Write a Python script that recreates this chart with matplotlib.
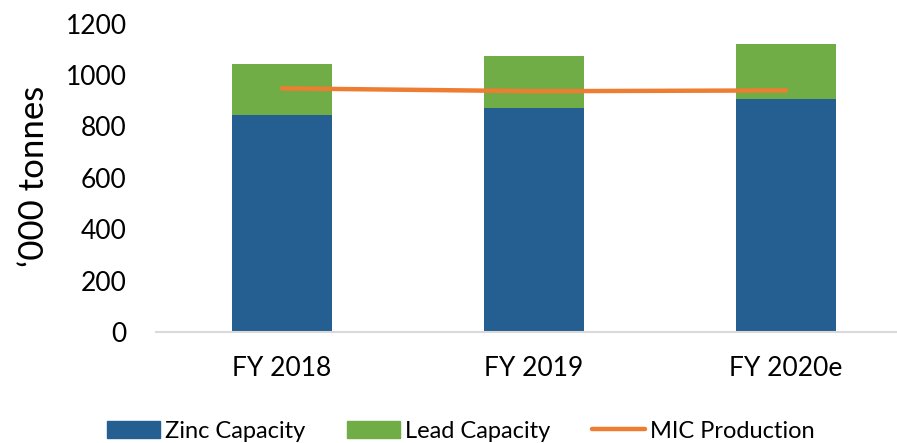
import numpy as np
import matplotlib.pyplot as plt
from matplotlib.lines import Line2D
from matplotlib.patches import Patch

plt.rcParams['font.family'] = ['Lato', 'DejaVu Sans']

# Data
years = ['FY 2018', 'FY 2019', 'FY 2020e']
zinc = [843, 873, 905]
lead = [200, 200, 216]
mic = [948, 937, 940]

blue = '#255E91'
green = '#70AD47'
orange = '#ED7D31'

fig = plt.figure(figsize=(8.97, 4.43), dpi=100)
# axes run past the right edge, as in the original crop
ax = fig.add_axes([156 / 897, 111 / 443, 756 / 897, 308.4 / 443])

x = np.arange(len(years))
ax.bar(x, zinc, width=0.4, color=blue, label='Zinc Capacity')
ax.bar(x, lead, width=0.4, bottom=zinc, color=green, label='Lead Capacity')
ax.plot(x, mic, color=orange, linewidth=3.2, solid_capstyle='round',
        label='MIC Production')

ax.set_xlim(-0.5, 2.5)
ax.set_ylim(0, 1200)
ax.set_yticks(range(0, 1201, 200))
ax.set_xticks(x)
ax.set_xticklabels(years)
ax.tick_params(axis='both', length=0, labelsize=19)
ax.tick_params(axis='x', pad=17)
ax.tick_params(axis='y', pad=21)
for s in ['top', 'right', 'left']:
    ax.spines[s].set_visible(False)
ax.spines['bottom'].set_color('#D9D9D9')
ax.spines['bottom'].set_linewidth(1.5)

fig.text(34 / 897, 1 - 176 / 443, '\u2018000 tonnes', rotation=90,
         ha='center', va='center', fontsize=25)

handles = [Patch(color=blue), Patch(color=green),
           Line2D([0], [0], color=orange, linewidth=3.2, solid_capstyle='round')]
fig.legend(handles, ['Zinc Capacity', 'Lead Capacity', 'MIC Production'],
           loc='center left', bbox_to_anchor=(107 / 897, 1 - 431 / 443),
           ncol=3, frameon=False, fontsize=17, borderpad=0, borderaxespad=0,
           handlelength=2.25, handleheight=0.7, handletextpad=0.2,
           columnspacing=1.78)

fig.savefig('out.png', dpi=100)
